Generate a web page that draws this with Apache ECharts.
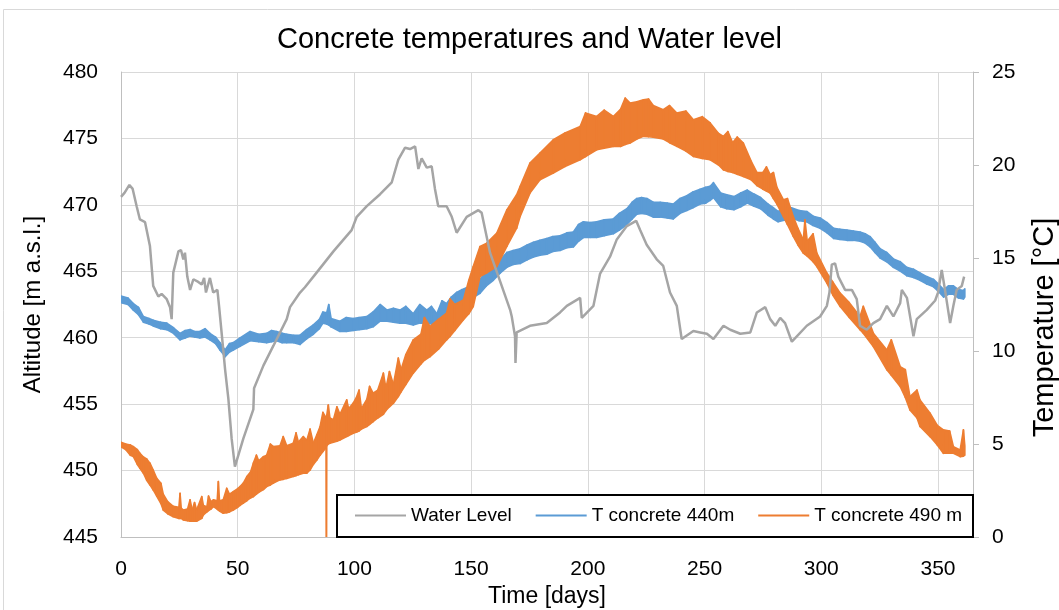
<!DOCTYPE html>
<html>
<head>
<meta charset="utf-8">
<title>Concrete temperatures and Water level</title>
<script src="https://cdn.jsdelivr.net/npm/echarts@6/dist/echarts.min.js"></script>
<style>
  html, body { margin: 0; padding: 0; background: #fff; }
  #chart { width: 1059px; height: 610px; }
</style>
</head>
<body>
<div id="chart"></div>
<script>
// Reservoir water level (m a.s.l.) against time in days
const waterDays = [0, 1.5, 3.6, 5, 6.7, 8.1, 10.3, 12.4, 13.8, 16, 17.4, 19.6, 21, 21.7, 22.4, 24.6, 25.7, 26.7, 27.4, 28.4, 29.6, 31, 33.1, 34.6, 35.6, 36.4, 38.1, 39.5, 41.3, 42, 43.8, 44.6, 46, 47.4, 48.8, 52.4, 56.7, 57, 61, 65.3, 71, 72.4, 76.7, 78.8, 83.8, 91, 98.8, 101, 105.3, 111, 116, 118.8, 121.7, 123.8, 126, 127.4, 128.8, 131, 133.1, 134.5, 135.9, 139.5, 141.7, 143.8, 148.1, 153.1, 154.5, 158.1, 163.1, 166.7, 167.4, 168.8, 169, 169.5, 175.2, 182.4, 188.1, 191, 196.7, 197.4, 202.4, 205.2, 209.5, 212.4, 216.7, 220.7, 222.4, 225.2, 229.5, 232.3, 235.2, 238.1, 240.2, 245.2, 248.1, 251, 253.8, 258.1, 261, 265.3, 269.6, 272.4, 276, 278.1, 280.3, 282.4, 284.5, 287.4, 293.8, 299.5, 302.4, 303.5, 304.5, 305.9, 307.3, 310.2, 313.1, 315.2, 316.6, 319.5, 322.3, 325.2, 328.1, 330.9, 333.8, 334.5, 336.7, 339.5, 340.9, 345.2, 348.8, 350, 351.6, 353, 355.2, 356.6, 358, 360.2, 361.2];
const waterLevel = [470.6, 470.9, 471.5, 471.2, 469.9, 468.9, 468.7, 466.9, 463.9, 463.1, 463.3, 462.9, 462.3, 461.4, 464.9, 466.5, 466.6, 465.9, 466.4, 464.6, 463.6, 464.4, 464.2, 464.0, 464.5, 463.4, 464.5, 463.4, 463.6, 462.4, 459.1, 457.6, 455.4, 452.4, 450.3, 452.4, 454.6, 456.2, 457.9, 459.4, 461.4, 462.3, 463.4, 463.8, 464.9, 466.5, 468.1, 469.1, 469.9, 470.8, 471.7, 473.4, 474.3, 474.2, 474.4, 472.7, 473.5, 472.8, 472.9, 471.2, 469.9, 469.9, 469.1, 467.9, 469.1, 469.6, 469.4, 466.4, 463.9, 462.1, 461.6, 460.1, 458.1, 460.4, 460.9, 461.1, 461.9, 462.4, 463.0, 461.5, 462.4, 464.8, 466.1, 467.4, 468.4, 468.8, 468.1, 467.0, 465.9, 465.4, 463.4, 462.4, 459.9, 460.5, 460.4, 460.3, 459.9, 460.9, 460.6, 460.3, 460.4, 461.9, 462.3, 461.4, 460.9, 461.5, 461.1, 459.7, 460.9, 461.6, 462.4, 463.4, 465.5, 465.6, 464.6, 463.6, 463.6, 462.9, 460.9, 460.6, 461.1, 461.4, 462.4, 461.6, 462.6, 463.6, 463.0, 460.1, 461.4, 462.1, 462.8, 463.4, 465.1, 463.6, 461.1, 462.4, 463.6, 463.9, 464.6];

// Concrete temperature at 440 m (°C): daily low and high envelope
const t440Days = [0, 3, 5.3, 7.5, 9.6, 12, 13.8, 17, 19.6, 22.5, 25.3, 27.5, 29.6, 31.5, 33.8, 36, 38.1, 40.5, 42.4, 44.6, 46.5, 48.1, 51, 55.3, 59, 62.4, 64.5, 66.7, 69, 71, 74, 76.7, 79.5, 82.4, 85, 86.5, 88.1, 89, 90, 93.8, 96.5, 99.5, 102, 105.3, 108, 111, 114, 116.7, 119.5, 122, 125.2, 128, 131, 133, 135.3, 137.5, 139.5, 141.5, 143.8, 146, 148, 150.5, 153.8, 156.5, 159.5, 162.5, 165.3, 168, 171, 174, 176.7, 179.5, 182.4, 185, 188.1, 191, 193.8, 196, 198.1, 201, 203.8, 207, 210.9, 213.5, 216.7, 219, 221, 223, 225.3, 228, 231, 234, 236.6, 239.5, 242.4, 245, 248.1, 250.5, 252.4, 253.8, 256.9, 259.5, 262.6, 265.5, 268.3, 271, 274, 277.2, 279.5, 281.5, 284.5, 287.2, 290.5, 293.8, 296.5, 299.5, 302.5, 305.3, 308, 311, 313.8, 316.6, 318.8, 320.9, 323, 325.2, 328, 330.9, 333.8, 336.6, 339.5, 342.3, 345.2, 348.1, 350.2, 352.4, 354.5, 356.6, 358.8, 360.9, 361.5];
const t440Low = [12.60, 12.50, 12.20, 11.95, 11.55, 11.45, 11.35, 11.20, 11.15, 10.95, 10.60, 10.70, 10.80, 10.75, 10.70, 10.75, 10.60, 10.40, 10.05, 9.70, 9.95, 10.05, 10.25, 10.55, 10.50, 10.45, 10.50, 10.55, 10.45, 10.45, 10.45, 10.35, 10.65, 10.90, 11.20, 11.50, 11.45, 11.40, 11.30, 11.05, 11.05, 11.10, 11.15, 11.20, 11.30, 11.60, 11.60, 11.55, 11.50, 11.50, 11.40, 11.50, 11.50, 11.45, 11.40, 11.60, 11.85, 11.90, 12.35, 12.55, 12.70, 12.85, 13.10, 13.50, 13.80, 14.20, 14.50, 14.65, 14.70, 14.90, 15.05, 15.15, 15.20, 15.35, 15.40, 15.55, 15.60, 15.90, 16.10, 16.10, 16.10, 16.20, 16.30, 16.50, 16.80, 17.10, 17.35, 17.40, 17.35, 17.20, 17.20, 17.15, 17.10, 17.40, 17.55, 17.70, 17.90, 17.95, 18.10, 18.25, 17.75, 17.65, 17.60, 17.75, 17.95, 17.80, 17.65, 17.30, 17.10, 16.95, 17.05, 17.15, 17.00, 16.95, 16.75, 16.60, 16.35, 16.05, 16.00, 15.95, 15.95, 15.90, 15.80, 15.60, 15.30, 15.00, 14.80, 14.50, 14.30, 14.05, 13.95, 13.80, 13.60, 13.45, 13.20, 12.90, 13.05, 13.05, 12.85, 12.80, 12.90];
const t440High = [12.95, 12.85, 12.55, 12.35, 11.85, 11.75, 11.65, 11.55, 11.50, 11.25, 10.95, 11.10, 11.15, 11.05, 11.05, 11.20, 10.95, 10.75, 10.45, 10.05, 10.40, 10.45, 10.70, 11.05, 10.90, 10.95, 11.10, 11.05, 10.95, 10.90, 10.85, 10.85, 11.15, 11.40, 11.70, 12.10, 12.05, 12.50, 11.75, 11.60, 11.80, 11.75, 11.80, 11.85, 12.10, 12.50, 12.20, 12.30, 12.20, 12.40, 12.00, 12.50, 12.20, 12.40, 12.00, 12.70, 12.55, 12.90, 13.15, 13.30, 13.40, 13.50, 13.85, 14.30, 14.60, 14.90, 15.30, 15.40, 15.50, 15.70, 15.85, 15.95, 16.05, 16.15, 16.20, 16.35, 16.40, 16.80, 16.95, 16.90, 16.95, 17.05, 17.10, 17.40, 17.65, 18.00, 18.20, 18.25, 18.20, 18.00, 18.00, 17.95, 17.90, 18.20, 18.35, 18.55, 18.70, 18.80, 18.85, 19.05, 18.50, 18.40, 18.30, 18.50, 18.65, 18.45, 18.25, 17.90, 17.70, 17.50, 17.70, 17.70, 17.55, 17.50, 17.25, 17.15, 16.90, 16.60, 16.55, 16.50, 16.45, 16.40, 16.30, 16.15, 15.85, 15.50, 15.30, 14.95, 14.80, 14.50, 14.40, 14.20, 14.00, 13.85, 13.60, 13.30, 13.50, 13.50, 13.30, 13.25, 13.35];

// Concrete temperature at 490 m (°C): daily low and high envelope
const t490Days = [0, 2, 4, 5.3, 7, 8.1, 9.6, 11, 12.4, 13.8, 15.3, 17.1, 18.1, 20, 22.4, 24.8, 25.3, 25.8, 26.7, 28.5, 29.6, 30.5, 31.5, 32.4, 34.6, 35.3, 36.8, 37.5, 38.5, 39.6, 41.2, 41.7, 42.2, 43.8, 45.3, 46.5, 48.1, 50, 51, 52.4, 53.9, 55.5, 56.7, 58, 59, 61, 62.4, 64, 65.3, 68.1, 69.5, 71, 73.8, 75, 76, 78.1, 79.6, 81, 82.4, 83.9, 85.3, 86.5, 87.9, 88.0, 88.1, 88.8, 89.5, 91, 92.5, 93.8, 96.7, 97.5, 99.5, 101, 102, 103, 105.3, 106.5, 108, 110, 112.4, 113.5, 115, 116.7, 118.8, 120, 122, 125.2, 128.5, 130, 132.4, 136, 139.5, 141, 143, 146.7, 149, 150.9, 153.8, 156.7, 161, 165.3, 169.5, 171, 175.2, 179.5, 185.2, 190.2, 196.7, 199, 203.8, 207, 210.9, 214, 216, 218.1, 221, 223.8, 226, 228, 232.3, 235, 238.1, 242, 245.2, 249, 252.4, 256, 258.1, 260, 262, 264, 266.6, 270, 272.4, 275, 276.5, 278.1, 279.5, 281, 283.8, 285.5, 288, 290, 292.3, 293, 294, 296.5, 298.1, 302.4, 305, 308.1, 312, 316.6, 318, 322.3, 328.1, 330, 333.8, 336, 338, 341, 342.3, 346.6, 349.7, 352.3, 355, 356.6, 359.5, 360.9, 361.5];
const t490Low = [4.85, 4.70, 4.40, 4.32, 3.90, 3.70, 3.43, 3.05, 2.80, 2.53, 2.20, 1.80, 1.45, 1.25, 1.09, 1.00, 1.00, 1.00, 0.92, 0.88, 0.85, 0.85, 0.85, 0.85, 1.00, 1.19, 1.35, 1.42, 1.50, 1.63, 1.50, 1.45, 1.40, 1.28, 1.30, 1.35, 1.45, 1.60, 1.70, 1.82, 1.95, 2.10, 2.17, 2.30, 2.40, 2.55, 2.71, 2.80, 2.90, 3.07, 3.10, 3.15, 3.25, 3.30, 3.35, 3.43, 3.43, 3.60, 3.90, 4.14, 4.40, 4.60, 4.80, 0.00, 4.90, 5.00, 5.04, 5.10, 5.15, 5.22, 5.40, 5.45, 5.58, 5.65, 5.70, 5.80, 5.94, 6.05, 6.20, 6.40, 6.60, 6.80, 7.00, 7.19, 7.55, 7.80, 8.20, 8.81, 9.30, 9.50, 9.70, 10.10, 10.60, 10.80, 11.10, 11.68, 12.00, 12.39, 14.00, 14.20, 14.54, 15.62, 16.60, 17.23, 18.49, 19.21, 19.57, 19.92, 20.28, 20.45, 20.82, 20.90, 21.00, 21.00, 21.10, 21.18, 21.40, 21.54, 21.52, 21.50, 21.40, 21.20, 21.00, 20.75, 20.46, 20.35, 20.28, 20.00, 19.74, 19.65, 19.60, 19.50, 19.38, 19.20, 18.90, 18.70, 18.60, 18.49, 18.20, 17.90, 17.23, 16.80, 16.16, 15.70, 15.26, 15.20, 15.10, 14.80, 14.54, 13.65, 13.00, 12.39, 11.80, 11.14, 10.95, 10.24, 8.99, 8.70, 8.09, 7.50, 6.83, 6.40, 5.94, 5.40, 4.95, 4.50, 4.50, 4.50, 4.32, 4.35, 4.40];
const t490High = [5.10, 5.00, 4.95, 4.86, 4.70, 4.50, 4.30, 4.20, 3.97, 3.60, 3.16, 2.89, 2.30, 1.90, 1.65, 1.60, 2.35, 1.55, 1.45, 1.50, 2.00, 1.45, 1.85, 1.45, 2.17, 1.70, 1.63, 2.20, 1.90, 2.00, 1.95, 2.98, 1.95, 2.00, 2.62, 2.30, 2.44, 2.60, 2.71, 2.90, 3.25, 3.50, 3.97, 4.40, 4.10, 4.32, 4.40, 5.00, 4.86, 4.90, 5.40, 4.90, 5.04, 5.60, 5.10, 5.40, 5.20, 5.80, 5.04, 5.50, 5.94, 6.70, 6.40, 6.40, 6.50, 7.10, 6.40, 6.30, 7.00, 6.60, 7.37, 6.90, 7.20, 7.55, 7.90, 6.90, 7.40, 8.10, 7.73, 7.90, 8.81, 8.00, 8.90, 8.20, 9.62, 9.00, 9.80, 10.60, 10.90, 11.80, 11.32, 11.70, 12.04, 12.80, 12.50, 12.75, 13.80, 14.54, 15.62, 15.80, 16.34, 17.59, 18.40, 18.85, 20.11, 20.64, 21.36, 21.72, 22.07, 22.80, 22.61, 22.95, 22.61, 23.00, 23.60, 23.33, 23.40, 23.51, 23.55, 23.20, 22.97, 23.20, 22.79, 22.90, 22.43, 22.60, 22.26, 21.70, 21.54, 21.80, 21.20, 21.50, 21.18, 20.20, 19.60, 19.60, 19.90, 19.48, 19.60, 18.80, 18.13, 18.20, 17.23, 16.60, 15.98, 17.05, 15.90, 16.30, 15.26, 14.19, 13.70, 13.11, 12.60, 11.85, 12.40, 10.96, 10.06, 10.60, 9.16, 9.00, 7.55, 7.90, 7.37, 6.66, 6.00, 5.76, 5.70, 4.86, 4.68, 5.76, 4.90];

const seriesNames = ['Water Level', 'T concrete 440m', 'T concrete 490 m'];
const colors = { water: '#A5A5A5', t440: '#5B9BD5', t490: '#ED7D31' };

const FONT = '"Liberation Sans", Arial, sans-serif';

// Fills the strip between the low and high envelopes, one quad per sample step
function bandItem(days, low, high, color) {
  return function (params, api) {
    const i = params.dataIndex;
    if (i >= days.length - 1) return null;
    const pts = [
      api.coord([days[i], low[i]]),
      api.coord([days[i + 1], low[i + 1]]),
      api.coord([days[i + 1], high[i + 1]]),
      api.coord([days[i], high[i]])
    ];
    return {
      type: 'polygon',
      shape: { points: pts },
      style: { fill: color, stroke: color, lineWidth: 1.6, lineJoin: 'round' }
    };
  };
}

function bandSeries(name, days, low, high, color) {
  return {
    name: name,
    type: 'custom',
    xAxisIndex: 0,
    yAxisIndex: 1,
    clip: true,
    color: color,
    itemStyle: { color: color },
    encode: { x: 0, y: [1, 2] },
    data: days.map((d, i) => [d, low[i], high[i]]),
    renderItem: bandItem(days, low, high, color)
  };
}

const chart = echarts.init(document.getElementById('chart'), null, { renderer: 'canvas' });

chart.setOption({
  animation: false,
  backgroundColor: '#fff',
  textStyle: { fontFamily: FONT, color: '#000' },
  title: {
    text: 'Concrete temperatures and Water level',
    left: 'center',
    top: 20,
    textStyle: { fontFamily: FONT, fontSize: 29, fontWeight: 'normal', color: '#000' }
  },
  grid: { left: 121, right: 86, top: 72, bottom: 73, containLabel: false, outerBoundsMode: 'none' },
  legend: {
    data: seriesNames,
    left: 355,
    top: 506,
    icon: 'rect',
    itemWidth: 51,
    itemHeight: 2,
    itemGap: 24,
    padding: 0,
    textStyle: { fontFamily: FONT, fontSize: 19, color: '#000' },
    z: 10
  },
  graphic: [
    {
      // chart frame
      type: 'rect',
      z: -1,
      silent: true,
      shape: { x: 3.5, y: 9.5, width: 1100, height: 700 },
      style: { fill: 'none', stroke: '#D9D9D9', lineWidth: 1 }
    },
    {
      // legend box
      type: 'rect',
      z: 5,
      silent: true,
      shape: { x: 337, y: 495, width: 636, height: 42 },
      style: { fill: '#fff', stroke: '#000', lineWidth: 2 }
    }
  ],
  xAxis: {
    type: 'value',
    min: 0,
    max: 365,
    interval: 50,
    name: 'Time [days]',
    nameLocation: 'middle',
    nameGap: 44,
    nameTextStyle: { fontFamily: FONT, fontSize: 23, color: '#000' },
    axisLine: { show: true, lineStyle: { color: '#BFBFBF', width: 1 } },
    axisTick: { show: false },
    axisLabel: {
      fontFamily: FONT, fontSize: 21, color: '#000', margin: 22,
      showMaxLabel: false,
      formatter: v => (v % 50 === 0 ? String(v) : '')
    },
    splitLine: { show: true, lineStyle: { color: '#D9D9D9', width: 1 } }
  },
  yAxis: [
    {
      type: 'value',
      position: 'left',
      min: 445,
      max: 480,
      interval: 5,
      name: 'Altitude [m a.s.l.]',
      nameLocation: 'middle',
      nameGap: 76,
      nameTextStyle: { fontFamily: FONT, fontSize: 24, color: '#000' },
      axisLine: { show: true, lineStyle: { color: '#BFBFBF', width: 1 } },
      axisTick: { show: false },
      axisLabel: { fontFamily: FONT, fontSize: 21, color: '#000', margin: 23 },
      splitLine: { show: true, lineStyle: { color: '#D9D9D9', width: 1 } }
    },
    {
      type: 'value',
      position: 'right',
      min: 0,
      max: 25,
      interval: 5,
      name: 'Temperature [°C]',
      nameLocation: 'middle',
      nameRotate: 90,
      nameGap: 57,
      nameTextStyle: { fontFamily: FONT, fontSize: 29, color: '#000', padding: [0, 46, 0, 0] },
      axisLine: { show: true, lineStyle: { color: '#BFBFBF', width: 1 } },
      axisTick: { show: true, inside: false, length: 6, lineStyle: { color: '#BFBFBF', width: 1 } },
      axisLabel: { fontFamily: FONT, fontSize: 21, color: '#000', margin: 19 },
      splitLine: { show: false }
    }
  ],
  series: [
    {
      name: seriesNames[0],
      type: 'line',
      xAxisIndex: 0,
      yAxisIndex: 0,
      color: colors.water,
      showSymbol: false,
      symbol: 'none',
      lineStyle: { color: colors.water, width: 2.5 },
      data: waterDays.map((d, i) => [d, waterLevel[i]])
    },
    bandSeries(seriesNames[1], t440Days, t440Low, t440High, colors.t440),
    bandSeries(seriesNames[2], t490Days, t490Low, t490High, colors.t490)
  ]
});
</script>
</body>
</html>
